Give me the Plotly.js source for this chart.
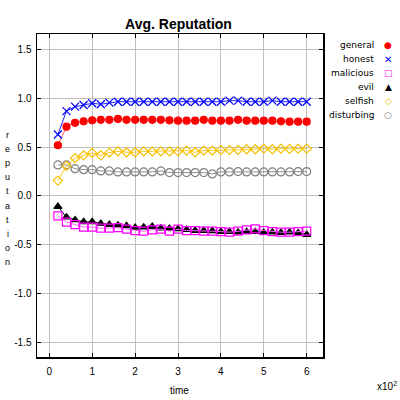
<!DOCTYPE html>
<html>
<head>
<meta charset="utf-8">
<script src="https://cdn.plot.ly/plotly-3.0.1.min.js"></script>
<style>html,body{margin:0;padding:0;background:#fff;}#chart{width:400px;height:400px;}</style>
</head>
<body>
<div id="chart"></div>
<script>
// time in units of 10^2
var time = [0.2,0.4,0.6,0.8,1.0,1.2,1.4,1.6,1.8,2.0,2.2,2.4,2.6,2.8,3.0,3.2,3.4,3.6,3.8,4.0,4.2,4.4,4.6,4.8,5.0,5.2,5.4,5.6,5.8,6.0];
var general = [0.52,0.71,0.75,0.765,0.775,0.78,0.78,0.79,0.78,0.78,0.78,0.78,0.78,0.775,0.772,0.772,0.772,0.78,0.772,0.772,0.772,0.78,0.772,0.772,0.772,0.772,0.765,0.762,0.762,0.762];
var honest = [0.63,0.87,0.915,0.932,0.95,0.94,0.956,0.966,0.966,0.966,0.966,0.966,0.966,0.966,0.966,0.966,0.966,0.966,0.966,0.966,0.977,0.977,0.966,0.966,0.966,0.977,0.966,0.966,0.966,0.966];
var malicious = [-0.204,-0.268,-0.293,-0.319,-0.319,-0.33,-0.33,-0.325,-0.34,-0.354,-0.361,-0.347,-0.34,-0.361,-0.34,-0.354,-0.354,-0.361,-0.361,-0.365,-0.371,-0.361,-0.347,-0.337,-0.354,-0.365,-0.371,-0.371,-0.365,-0.361];
var evil = [-0.108,-0.217,-0.245,-0.265,-0.265,-0.282,-0.293,-0.299,-0.306,-0.323,-0.32,-0.313,-0.33,-0.333,-0.337,-0.344,-0.354,-0.354,-0.357,-0.365,-0.365,-0.371,-0.365,-0.365,-0.375,-0.371,-0.375,-0.371,-0.378,-0.395];
var selfish = [0.158,0.308,0.387,0.417,0.441,0.417,0.444,0.458,0.448,0.448,0.458,0.458,0.458,0.458,0.458,0.465,0.448,0.465,0.465,0.472,0.472,0.472,0.479,0.479,0.486,0.479,0.486,0.483,0.486,0.486];
var disturbing = [0.318,0.318,0.28,0.27,0.27,0.257,0.257,0.247,0.247,0.247,0.247,0.247,0.257,0.24,0.24,0.24,0.24,0.24,0.226,0.247,0.247,0.25,0.247,0.247,0.247,0.247,0.247,0.247,0.25,0.25];
var seriesNames = ['general','honest','malicious','evil','selfish','disturbing'];
var xTickVals = [0,1,2,3,4,5,6];
var xTickText = ['0','1','2','3','4','5','6'];
var yTickVals = [-1.5,-1.0,-0.5,0.0,0.5,1.0,1.5];
var yTickText = ['-1.5','-1.0','-0.5','0.0','0.5','1.0','1.5'];
var yLabel = 'reputation';

var seriesData = [general, honest, malicious, evil, selfish, disturbing];
var colors = ['#ff0000','#0000ff','#ff00ff','#000000','#f5c000','#808080'];
var lineColors = ['#ff5050','#2020ff','#ff60ff','#000000','#ffc820','#909090'];
var symbols = ['circle','x-thin-open','square-open','triangle-up','diamond-open','circle-open'];
var sizes = [7,8,8,7,7,8];
var glyphs = ['\u25CF','\u2715','\u25A1','\u25B2','\u25C7','\u25CB'];

// draw order: put malicious over evil as in reference
var order = [5,4,3,2,0,1];
var traces = order.map(function(i){
  return {
    x: time, y: seriesData[i], name: seriesNames[i], type: 'scatter', mode: 'lines+markers',
    line: {color: lineColors[i], width: 1},
    marker: {symbol: symbols[i], size: sizes[i], color: colors[i], line: {color: colors[i], width: 1.2}},
    showlegend: false, cliponaxis: false
  };
});

var tickFont = {family: 'Liberation Sans, Arial, sans-serif', size: 10, color: '#000'};
var annotations = [];
// stacked vertical y-axis label
for (var k = 0; k < yLabel.length; k++) {
  annotations.push({xref:'paper', yref:'paper', x: (8-37)/285, y: (357-135-k*14.1)/323, text: yLabel[k],
    showarrow:false, xanchor:'center', yanchor:'middle', font:{family:'Liberation Sans, Arial, sans-serif', size:9, color:'#000'}});
}
// legend
for (var j = 0; j < seriesNames.length; j++) {
  var yy = (357 - (45 + j*14.05)) / 323;
  annotations.push({xref:'paper', yref:'paper', x: (375-37)/285, y: yy, text: seriesNames[j], showarrow:false,
    xanchor:'right', yanchor:'middle', font:{family:'DejaVu Sans, sans-serif', size:9, color:'#000'}});
  annotations.push({xref:'paper', yref:'paper', x: (387-37)/285, y: yy, text: glyphs[j], showarrow:false,
    xanchor:'center', yanchor:'middle', font:{family:'DejaVu Sans, sans-serif', size:(j===1?10:9), color:colors[j]}});
}
annotations.push({xref:'paper', yref:'paper', x: (179-37)/285, y: (357-390)/323, text:'time', showarrow:false,
  xanchor:'center', yanchor:'middle', font:{family:'Liberation Sans, Arial, sans-serif', size:10, color:'#000'}});
annotations.push({xref:'paper', yref:'paper', x: (386-37)/285, y: (357-386)/323, text:'x10<sup>2</sup>', showarrow:false,
  xanchor:'center', yanchor:'middle', font:{family:'Liberation Sans, Arial, sans-serif', size:10, color:'#000'}});

var layout = {
  width: 400, height: 400,
  margin: {l: 37, r: 77, t: 34, b: 43, pad: 0},
  paper_bgcolor: '#fff', plot_bgcolor: '#fff',
  title: {text: '<b>Avg. Reputation</b>', x: 178.5/400, xanchor: 'center', y: 1-24/400, yanchor: 'middle',
    font: {family: 'Liberation Sans, Arial, sans-serif', size: 14, color: '#000'}},
  xaxis: {range: [-0.287, 6.38], tickvals: xTickVals, ticktext: xTickText, ticks: 'inside', ticklen: 4,
    tickcolor: '#000', showgrid: true, gridcolor: '#c0c0c0', gridwidth: 1, zeroline: false,
    showline: true, linecolor: '#000', linewidth: 1.5, mirror: 'ticks', tickfont: tickFont, ticklabelstandoff: 4},
  yaxis: {range: [-1.65, 1.66], tickvals: yTickVals, ticktext: yTickText, ticks: 'inside', ticklen: 4,
    tickcolor: '#000', showgrid: true, gridcolor: '#c0c0c0', gridwidth: 1, zeroline: false,
    showline: true, linecolor: '#000', linewidth: 1.5, mirror: 'ticks', tickfont: tickFont, ticklabelstandoff: 2},
  annotations: annotations,
  showlegend: false
};

Plotly.newPlot('chart', traces, layout, {displayModeBar: false, staticPlot: true});
</script>
</body>
</html>
